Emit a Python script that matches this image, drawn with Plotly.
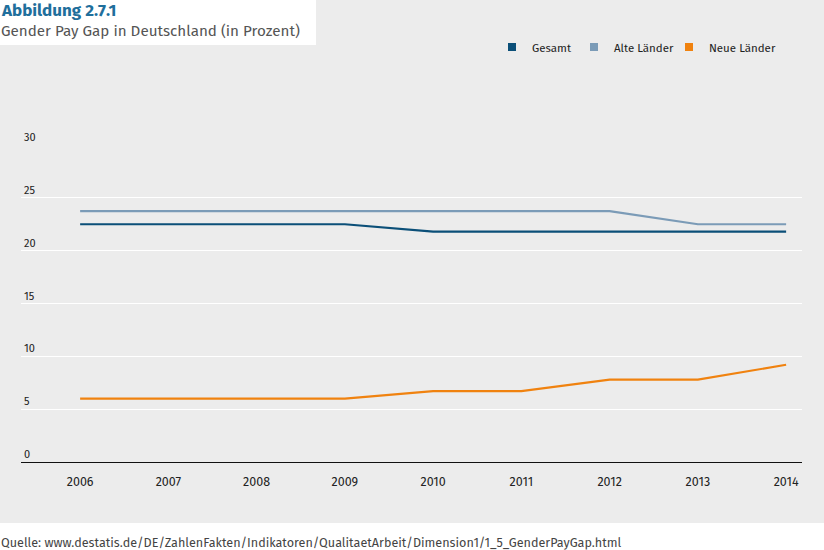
import plotly.graph_objects as go

years = [2006, 2007, 2008, 2009, 2010, 2011, 2012, 2013, 2014]
gesamt = [22.5, 22.5, 22.5, 22.5, 21.8, 21.8, 21.8, 21.8, 21.8]
alte = [23.75, 23.75, 23.75, 23.75, 23.75, 23.75, 23.75, 22.5, 22.5]
neue = [6.0, 6.0, 6.0, 6.0, 6.7, 6.7, 7.8, 7.8, 9.2]
y_ticks = [0, 5, 10, 15, 20, 25, 30]

series = [
    ("Gesamt", gesamt, "#0b4f78", "legend"),
    ("Alte Länder", alte, "#7b9bb7", "legend2"),
    ("Neue Länder", neue, "#f0820f", "legend3"),
]

FONT = "Fira Sans, Noto Sans, sans-serif"
W, H = 824, 550
L, R, T, B = 21, 22, 145, 88
pw, ph = W - L - R, H - T - B


def px_x(p):
    return (p - L) / pw


def px_y(p):
    return (H - B - p) / ph


fig = go.Figure()
for name, vals, col, lg in series:
    fig.add_trace(go.Scatter(x=years, y=vals, mode="lines", name=name,
                             line=dict(color=col, width=2.2), showlegend=False,
                             hoverinfo="x+y"))
    fig.add_trace(go.Scatter(x=[None], y=[None], mode="markers", name=name,
                             marker=dict(symbol="square", size=8, color=col),
                             showlegend=True, legend=lg))

legend_common = dict(orientation="h", bgcolor="rgba(0,0,0,0)", borderwidth=0,
                     font=dict(family=FONT, size=11.5, color="#222"),
                     xanchor="left", yanchor="middle", itemwidth=30)

leg_pos = [492, 574, 669]

fig.update_layout(
    width=W, height=H,
    margin=dict(l=L, r=R, t=T, b=B),
    paper_bgcolor="white",
    plot_bgcolor="rgba(0,0,0,0)",
    font=dict(family=FONT, color="#222"),
    legend=dict(legend_common, x=px_x(leg_pos[0]), y=px_y(47)),
    legend2=dict(legend_common, x=px_x(leg_pos[1]), y=px_y(47)),
    legend3=dict(legend_common, x=px_x(leg_pos[2]), y=px_y(47)),
    xaxis=dict(range=[2005.33, 2014.18], tickmode="array", tickvals=years,
               ticktext=[str(y) for y in years], showgrid=False, zeroline=False,
               showline=False, ticks="", tickfont=dict(size=12.5, color="#222"),
               ticklabelstandoff=10),
    yaxis=dict(range=[0, 30], tickmode="array", tickvals=y_ticks,
               showgrid=True, gridcolor="white", gridwidth=1, zeroline=True,
               zerolinecolor="#111", zerolinewidth=1, showline=False, ticks="",
               ticklabelposition="inside top", ticklabeloverflow="allow",
               tickfont=dict(size=11, color="#222")),
    shapes=[
        dict(type="rect", xref="paper", yref="paper", layer="below",
             x0=px_x(-2), x1=px_x(W + 2), y0=px_y(523), y1=px_y(-2),
             fillcolor="#ececec", line=dict(width=0)),
        dict(type="rect", xref="paper", yref="paper", layer="below",
             x0=px_x(-2), x1=px_x(316), y0=px_y(45), y1=px_y(-2),
             fillcolor="white", line=dict(width=0)),
    ],
    annotations=[
        dict(text="<b>Abbildung 2.7.1</b>", xref="paper", yref="paper",
             x=px_x(-1), y=px_y(10), xanchor="left", yanchor="middle",
             showarrow=False, font=dict(family=FONT, size=17, color="#1f6f9c")),
        dict(text="Gender Pay Gap in Deutschland (in Prozent)", xref="paper",
             yref="paper", x=px_x(-1), y=px_y(31), xanchor="left",
             yanchor="middle", showarrow=False,
             font=dict(family=FONT, size=15.2, color="#555")),
        dict(text="Quelle: www.destatis.de/DE/ZahlenFakten/Indikatoren/QualitaetArbeit/Dimension1/1_5_GenderPayGap.html",
             xref="paper", yref="paper", x=px_x(-1), y=px_y(542),
             xanchor="left", yanchor="middle", showarrow=False,
             font=dict(family=FONT, size=12.6, color="#444")),
    ],
)

fig.write_html("out.html", config={"displayModeBar": False},
               post_script="document.body.style.margin='0px';document.body.style.overflow='hidden';")
